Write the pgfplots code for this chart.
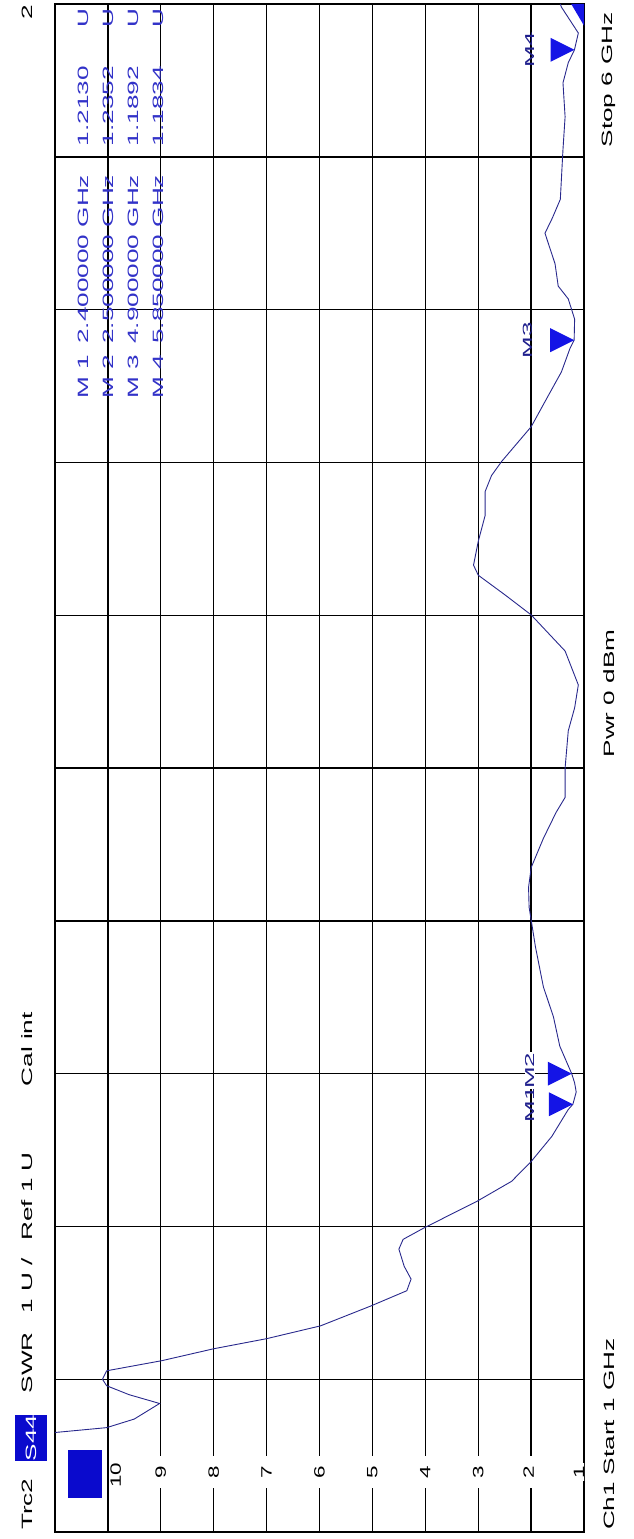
\documentclass[border=0pt]{standalone}
\usepackage{pgfplots}
\pgfplotsset{compat=1.18}
\usepackage{fontspec}
\setmainfont{Liberation Sans}
\definecolor{trace}{RGB}{40,40,140}
\definecolor{mk}{RGB}{20,20,230}
\definecolor{tab}{RGB}{50,50,200}
\definecolor{mlab}{RGB}{30,30,140}
\definecolor{box}{RGB}{10,10,205}
\pgfdeclareplotmark{rtri}{%
 \pgfpathmoveto{\pgfqpoint{0pt}{0pt}}%
 \pgfpathlineto{\pgfqpoint{-24pt}{12pt}}%
 \pgfpathlineto{\pgfqpoint{-24pt}{-12pt}}%
 \pgfpathclose\pgfusepathqfill}
\newcommand{\sx}[2][1.75]{\scalebox{#1}[1]{#2}}
\begin{document}
\begin{tikzpicture}[x=1pt,y=1pt,font=\fontsize{15}{17}\selectfont]
\path (-55,-2) rectangle (580,1537);
\begin{axis}[at={(0,0)}, anchor=south west, scale only axis,
  width=531pt, height=1533pt,
  xmin=1, xmax=11, ymin=1, ymax=6, x dir=reverse,
  xtick={1,2,3,4,5,6,7,8,9,10,11},
  ytick={1,1.5,2,2.5,3,3.5,4,4.5,5,5.5,6},
  xticklabels={}, yticklabels={}, major tick length=0pt,
  grid=major, major grid style={black, line width=1.5pt},
  axis line style={black, line width=1.5pt},
  clip=true]
\addplot[trace, line width=0.9pt, mark=none] coordinates {
(13,1.0) (11.6,1.2) (11.0,1.326) (10.02,1.342) (9.5,1.37) (9.02,1.421)
(9.6,1.45) (10.02,1.479) (10.1,1.50) (10.02,1.528) (8.98,1.561) (8.0,1.60)
(7.0,1.633) (5.98,1.675) (5.03,1.74) (4.35,1.79) (4.27,1.828) (4.4,1.87)
(4.5,1.926) (4.42,1.958) (4.03,1.995) (3.02,2.083) (2.37,2.148) (2.0,2.213)
(1.61,2.295) (1.30,2.383) (1.213,2.40) (1.15,2.44) (1.18,2.47) (1.235,2.50)
(1.46,2.59) (1.58,2.686) (1.77,2.784) (1.92,2.915) (2.04,3.045) (2.05,3.11)
(2.0,3.175) (1.77,3.27) (1.53,3.355) (1.36,3.404) (1.36,3.50) (1.30,3.622)
(1.18,3.697) (1.11,3.772) (1.36,3.883) (2.0,4.001) (2.49,4.066) (3.0,4.131)
(3.09,4.164) (3.0,4.242) (2.87,4.327) (2.87,4.405) (2.75,4.457) (2.56,4.503)
(2.0,4.617) (1.74,4.699) (1.43,4.796) (1.27,4.872) (1.1892,4.90) (1.18,4.969)
(1.30,5.035) (1.49,5.077) (1.55,5.15) (1.74,5.25) (1.6,5.30) (1.45,5.361)
(1.40,5.524) (1.36,5.631) (1.40,5.742) (1.30,5.808) (1.1834,5.85) (1.11,5.905)
(1.43,5.99) (1.45,6.0)};
\addplot[only marks, mark=rtri, color=mk] coordinates {
(1.2130,2.4) (1.2352,2.5) (1.1892,4.9) (1.1834,5.85)};
% scale labels
\begin{scope}[every node/.style={rotate=90, fill=white, inner xsep=10pt, inner ysep=1pt, font=\fontsize{15}{17}\selectfont}]
\node at (axis cs:9.85,1.186) {\sx[1.5]{10}};
\node at (axis cs:9,1.196) {\sx[1.5]{9}};
\node at (axis cs:8,1.196) {\sx[1.5]{8}};
\node at (axis cs:7,1.196) {\sx[1.5]{7}};
\node at (axis cs:6,1.196) {\sx[1.5]{6}};
\node at (axis cs:5,1.196) {\sx[1.5]{5}};
\node at (axis cs:4,1.196) {\sx[1.5]{4}};
\node at (axis cs:3,1.196) {\sx[1.5]{3}};
\node at (axis cs:2.05,1.196) {\sx[1.5]{2}};
\node[inner xsep=3pt] at (axis cs:1.1,1.196) {\sx[1.5]{1}};
\end{scope}
% marker labels
\begin{scope}[every node/.style={rotate=90, text=mlab, inner sep=0.5pt, font=\fontsize{13}{15}\selectfont}]
\node at (axis cs:2.03,2.4) {\sx[2]{M1}};
\node[fill=white] at (axis cs:2.03,2.51) {\sx[2]{M2}};
\node at (axis cs:2.07,4.9) {\sx[2]{M3}};
\node at (axis cs:2.03,5.85) {\sx[2]{M4}};
\end{scope}
\end{axis}
% blue reference box
\fill[box] (13,34) rectangle (47,82);
% top-right wedge
\fill[mk] (518,1533) -- (531,1533) -- (531,1511) -- cycle;
% header (left)
\begin{scope}[every node/.style={rotate=90, inner sep=0pt, anchor=west}]
\node at (-28,2) {\sx{Trc2}};
\node[fill=box, text=white, anchor=center, minimum width=46pt, minimum height=32pt] at (-24,94.5) {\sx{S44}};
\node at (-28,139) {\sx{SWR}};
\node at (-28,219) {\sx{1 U /}};
\node at (-28,292) {\sx{Ref 1 U}};
\node at (-28,447) {\sx{Cal int}};
\node[anchor=center] at (-28,1525) {\sx{2}};
% footer (right)
\node at (556,2) {\sx{Ch1}};
\node at (556,57) {\sx{Start 1 GHz}};
\node at (556,777) {\sx{Pwr 0 dBm}};
\node at (556,1389) {\sx{Stop 6 GHz}};
% marker table
\begin{scope}[every node/.append style={text=tab}]
\node at (29,1137) {\sx{M 1}};
\node at (29,1192) {\sx{2.400000 GHz}};
\node at (29,1390) {\sx{1.2130}};
\node at (29,1509) {\sx{U}};
\node at (54,1137) {\sx{M 2}};
\node at (54,1192) {\sx{2.500000 GHz}};
\node at (54,1390) {\sx{1.2352}};
\node at (54,1509) {\sx{U}};
\node at (79,1137) {\sx{M 3}};
\node at (79,1192) {\sx{4.900000 GHz}};
\node at (79,1390) {\sx{1.1892}};
\node at (79,1509) {\sx{U}};
\node at (104,1137) {\sx{M 4}};
\node at (104,1192) {\sx{5.850000 GHz}};
\node at (104,1390) {\sx{1.1834}};
\node at (104,1509) {\sx{U}};
\end{scope}
\end{scope}
\end{tikzpicture}
\end{document}
